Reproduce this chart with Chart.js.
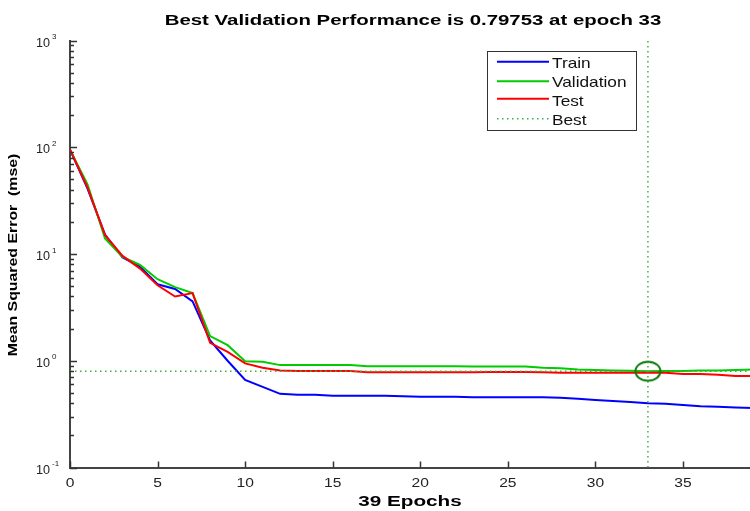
<!DOCTYPE html>
<html>
<head>
<meta charset="utf-8">
<script src="https://cdn.jsdelivr.net/npm/chart.js@4.4.1/dist/chart.umd.min.js"></script>
<style>
  html, body { margin: 0; padding: 0; background: #fff; overflow: hidden; }
  #wrap { position: relative; width: 756px; height: 511px; }
  canvas { display: block; }
</style>
</head>
<body>
<div id="wrap"><canvas id="c" width="756" height="511"></canvas></div>
<script>
// ---- data ----
const epochs = [0,1,2,3,4,5,6,7,8,9,10,11,12,13,14,15,16,17,18,19,20,21,22,23,24,25,26,27,28,29,30,31,32,33,34,35,36,37,38,39];
const trainMse = [95, 41, 15.2, 9.3, 7.6, 5.2, 4.7, 3.6, 1.55, 1.0, 0.66, 0.57, 0.49, 0.48, 0.48, 0.47, 0.47, 0.47, 0.47, 0.465, 0.46, 0.46, 0.46, 0.455, 0.455, 0.455, 0.455, 0.455, 0.45, 0.44, 0.43, 0.42, 0.41, 0.40, 0.395, 0.385, 0.375, 0.37, 0.365, 0.36];
const validationMse = [95, 45, 14, 9.4, 7.9, 5.8, 4.9, 4.3, 1.7, 1.4, 0.99, 0.98, 0.91, 0.91, 0.91, 0.91, 0.91, 0.89, 0.89, 0.89, 0.89, 0.89, 0.89, 0.885, 0.885, 0.885, 0.885, 0.86, 0.85, 0.83, 0.82, 0.81, 0.805, 0.79753, 0.80, 0.80, 0.81, 0.81, 0.82, 0.83];
const testMse = [95, 42, 15, 9.6, 7.3, 5.1, 4.0, 4.3, 1.47, 1.21, 0.945, 0.86, 0.81, 0.80, 0.80, 0.80, 0.80, 0.78, 0.78, 0.78, 0.78, 0.78, 0.78, 0.78, 0.785, 0.785, 0.785, 0.78, 0.77, 0.77, 0.77, 0.77, 0.77, 0.77, 0.77, 0.75, 0.75, 0.74, 0.72, 0.72];
const bestEpoch = 33;
const bestValue = 0.79753;
const xTickValues = [0, 5, 10, 15, 20, 25, 30, 35];
const xTickLabels = ['0', '5', '10', '15', '20', '25', '30', '35'];
const yTickValues = [0.1, 1, 10, 100, 1000];
const yTickBase = '10';
const yTickExponents = ['-1', '0', '1', '2', '3'];
const legendLabels = ['Train', 'Validation', 'Test', 'Best'];
const titleText = 'Best Validation Performance is 0.79753 at epoch 33';
const xTitle = '39 Epochs';
const yTitle = 'Mean Squared Error  (mse)';

// ---- styles ----
const BLUE = '#0000ff', GREEN = '#00cc00', RED = '#ff0000', BEST = '#3cb043', CIRCLE = '#0b7a0b';
const FONT = "'Liberation Sans', Arial, sans-serif";

const pts = arr => epochs.map((e, i) => ({ x: e, y: arr[i] }));

// ellipse marker for the best point
const marker = document.createElement('canvas');
marker.width = 30; marker.height = 24;
(function () {
  const m = marker.getContext('2d');
  m.strokeStyle = CIRCLE; m.lineWidth = 2;
  m.beginPath(); m.ellipse(15, 12, 12.5, 9.5, 0, 0, Math.PI * 2); m.stroke();
})();

function buildYTicks() {
  const t = [];
  for (let e = -1; e <= 3; e++) {
    for (let k = 1; k <= 9; k++) {
      const v = k * Math.pow(10, e);
      if (v > 1000 + 1e-9) break;
      t.push({ value: v });
    }
  }
  return t;
}
function isMajor(v) {
  return yTickValues.some(m => Math.abs(v - m) / m < 1e-6);
}
function wideText(ctx, text, x, y, sx, align) {
  ctx.save();
  ctx.translate(x, y);
  ctx.scale(sx, 1);
  ctx.textAlign = align;
  ctx.fillText(text, 0, 0);
  ctx.restore();
}

const decorPlugin = {
  id: 'decor',
  afterDraw(chart) {
    const ctx = chart.ctx, a = chart.chartArea;
    const xs = chart.scales.x, ys = chart.scales.y;
    ctx.save();
    // inward ticks
    ctx.strokeStyle = '#333'; ctx.lineWidth = 1.5;
    ys.ticks.forEach(t => {
      const y = Math.round(ys.getPixelForValue(t.value)) + 0.5;
      ctx.beginPath(); ctx.moveTo(a.left, y); ctx.lineTo(a.left + (isMajor(t.value) ? 7 : 4), y); ctx.stroke();
    });
    xs.ticks.forEach(t => {
      const x = Math.round(xs.getPixelForValue(t.value)) + 0.5;
      ctx.beginPath(); ctx.moveTo(x, a.bottom); ctx.lineTo(x, a.bottom - 6); ctx.stroke();
    });
    ctx.textBaseline = 'alphabetic';
    // x tick labels
    ctx.fillStyle = '#222';
    ctx.font = '12px ' + FONT;
    xTickValues.forEach((v, i) => {
      wideText(ctx, xTickLabels[i], xs.getPixelForValue(v), a.bottom + 19.5, 1.3, 'center');
    });
    // y tick labels (10 with exponent)
    yTickValues.forEach((v, i) => {
      const y = ys.getPixelForValue(v);
      ctx.font = '12px ' + FONT;
      wideText(ctx, yTickBase, a.left - 20, y + 6, 1.05, 'right');
      ctx.font = '8px ' + FONT;
      wideText(ctx, yTickExponents[i], a.left - 18, y - 1.5, 1.0, 'left');
    });
    // title
    ctx.fillStyle = '#000';
    ctx.font = 'bold 15px ' + FONT;
    wideText(ctx, titleText, (a.left + a.right) / 2 + 1.5, 25, 1.36, 'center');
    // x axis title
    wideText(ctx, xTitle, (a.left + a.right) / 2 - 1.5, a.bottom + 38.5, 1.38, 'center');
    // y axis title (rotated)
    ctx.save();
    ctx.font = 'bold 13px ' + FONT;
    ctx.translate(16.7, (a.top + a.bottom) / 2 + 1);
    ctx.rotate(-Math.PI / 2);
    ctx.scale(1.22, 1);
    ctx.textAlign = 'center';
    ctx.fillText(yTitle, 0, 0);
    ctx.restore();
    // legend
    const bx = a.right - 266, by = a.top + 10.5, bw = 149, bh = 79;
    ctx.fillStyle = '#fff';
    ctx.fillRect(bx, by, bw, bh);
    ctx.strokeStyle = '#333'; ctx.lineWidth = 1;
    ctx.strokeRect(Math.round(bx) + 0.5, Math.round(by) + 0.5, bw, bh);
    const colors = [BLUE, GREEN, RED, BEST];
    const lineRows = [10.8, 30.2, 47.8, 67.8];
    const textRows = [16.8, 36.2, 54.5, 73.5];
    ctx.font = '15px ' + FONT;
    legendLabels.forEach((lab, i) => {
      const ry = by + lineRows[i];
      ctx.strokeStyle = colors[i];
      if (i === 3) { ctx.lineWidth = 1.5; ctx.setLineDash([1.5, 3.5]); }
      else { ctx.lineWidth = 2; ctx.setLineDash([]); }
      ctx.beginPath(); ctx.moveTo(bx + 10, ry); ctx.lineTo(bx + 62, ry); ctx.stroke();
      ctx.setLineDash([]);
      ctx.fillStyle = '#111';
      wideText(ctx, lab, bx + 65, by + textRows[i], 1.15, 'left');
    });
    ctx.restore();
  }
};

new Chart(document.getElementById('c'), {
  type: 'scatter',
  data: {
    datasets: [
      { label: 'BestMark', data: [{ x: bestEpoch, y: bestValue }], showLine: false,
        pointStyle: marker, pointRadius: 12, pointHoverRadius: 12 },
      { label: 'BestH', data: [{ x: 0, y: bestValue }, { x: 39, y: bestValue }], showLine: true,
        borderColor: BEST, borderWidth: 1.5, borderDash: [1.5, 3.5], pointRadius: 0 },
      { label: 'BestV', data: [{ x: bestEpoch, y: 0.1 }, { x: bestEpoch, y: 1000 }], showLine: true,
        borderColor: BEST, borderWidth: 1.5, borderDash: [1.5, 3.5], pointRadius: 0 },
      { label: 'Test', data: pts(testMse), showLine: true, borderColor: RED, borderWidth: 2, pointRadius: 0 },
      { label: 'Validation', data: pts(validationMse), showLine: true, borderColor: GREEN, borderWidth: 2, pointRadius: 0 },
      { label: 'Train', data: pts(trainMse), showLine: true, borderColor: BLUE, borderWidth: 2, pointRadius: 0 }
    ]
  },
  options: {
    responsive: false,
    animation: false,
    devicePixelRatio: 1,
    layout: { autoPadding: false, padding: { top: 40.5, right: 3, left: 0, bottom: 0 } },
    plugins: { legend: { display: false }, title: { display: false }, tooltip: { enabled: false } },
    events: [],
    scales: {
      x: {
        type: 'linear', min: 0, max: 39,
        afterBuildTicks: s => { s.ticks = xTickValues.map(v => ({ value: v })); },
        afterFit: s => { s.height = 43.5; s.paddingLeft = 0; s.paddingRight = 0; },
        ticks: { display: false, includeBounds: false },
        grid: { display: true, drawOnChartArea: false, drawTicks: false },
        border: { display: true, color: '#444', width: 2 },
        title: { display: false }
      },
      y: {
        type: 'logarithmic', min: 0.1, max: 1000,
        afterBuildTicks: s => { s.ticks = buildYTicks(); },
        afterFit: s => { s.width = 70; s.paddingTop = 0; s.paddingBottom = 0; },
        ticks: { display: false, autoSkip: false },
        grid: { display: true, drawOnChartArea: false, drawTicks: false },
        border: { display: true, color: '#444', width: 2 },
        title: { display: false }
      }
    }
  },
  plugins: [decorPlugin]
});
</script>
</body>
</html>
